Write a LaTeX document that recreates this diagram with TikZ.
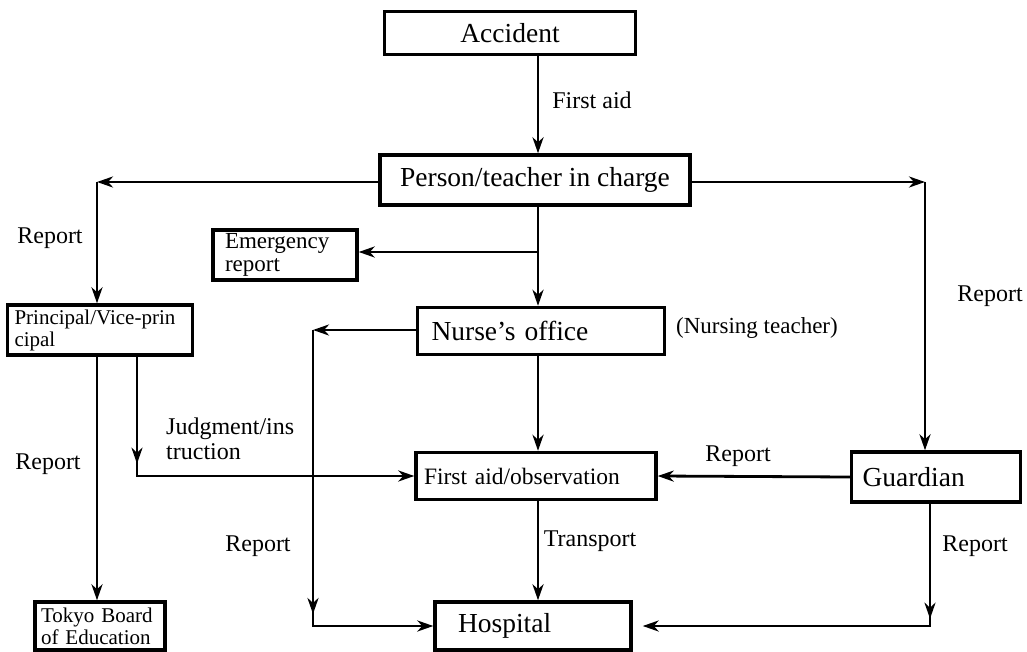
\documentclass[tikz,border=0pt]{standalone}
\usepackage{fontspec}
\setmainfont{Liberation Serif}
\usetikzlibrary{calc, positioning, arrows.meta}

\begin{document}
\begin{tikzpicture}[x=1pt,y=-1pt,
  box/.style={draw, line width=3.4pt, inner sep=0pt, minimum height=48pt},
  big/.style={font=\fontsize{27.5}{30}\selectfont},
  small/.style={font=\fontsize{21}{22}\selectfont},
  lbl/.style={font=\fontsize{24}{25}\selectfont, inner sep=0pt},
  arr/.style={line width=2.8pt, -{Stealth[length=16pt,width=11pt,inset=5pt]}}
 ]
 \useasboundingbox (0,0) rectangle (1027,652);

 % boxes
 \node[box, big, minimum width=251pt, minimum height=43pt] (acc) at (510,33) {Accident};
 \node[box, big, minimum width=310pt, minimum height=50pt] (person) at (535,180) {Person/teacher in charge};
 \node[box, font=\fontsize{23}{23}\selectfont, text width=120pt, inner xsep=12pt, align=left, minimum height=50pt]
   (emerg) at (285,255) {Emergency\\report};
 \node[box, small, text width=171pt, inner xsep=7pt, align=left, minimum height=50pt]
   (principal) at (100,330) {Principal/Vice-prin\\cipal};
 \node[box, big, text width=219pt, inner xsep=14pt, align=left, minimum height=47pt]
   (nurse) at (541,331) {Nurse’s office};
 \node[box, font=\fontsize{23.5}{25}\selectfont, text width=224pt, inner xsep=8pt, align=left, minimum height=47pt]
   (firstaid) at (536,476) {First aid/observation};
 \node[box, big, text width=147pt, inner xsep=11pt, align=left, minimum height=50pt]
   (guardian) at (936,477) {Guardian};
 \node[box, big, text width=150pt, inner xsep=23pt, align=left, minimum height=48pt]
   (hospital) at (533,626) {Hospital};
 \node[box, small, text width=118pt, inner xsep=6pt, align=left, minimum height=48pt]
   (tokyo) at (100,626) {Tokyo Board\\of Education};

 % bends
 \coordinate (mid) at (538,0);
 \coordinate (lft) at (97,182);
 \coordinate (rgt) at (925,182);
 \coordinate (br) at (538,252);
 \coordinate (nl) at (313,330);
 \coordinate (jx) at (137,0);
 \coordinate (gx) at (930,0);

 % connectors
 \draw[arr] (acc.south -| mid) -- (person.north -| mid);
 \draw[arr] (person.west |- lft) -- (lft);
 \draw[arr] (lft) -- (principal.north -| lft);
 \draw[arr] (person.east |- rgt) -- (rgt);
 \draw[arr] (rgt) -- (guardian.north -| rgt);
 \draw[arr] (person.south -| mid) -- (nurse.north -| mid);
 \draw[arr] (br) -- (emerg.east |- br);
 \draw[arr] (nurse.west |- nl) -- (nl);
 \draw[arr] (nl) -- ++(0,284);
 \draw[arr] (nl) |- (hospital.west);
 \draw[arr] (principal.south -| lft) -- (tokyo.north -| lft);
 \draw[arr] (principal.south -| jx) -- ++(0,107);
 \draw[arr] (principal.south -| jx) |- (firstaid.west);
 \draw[arr] (nurse.south -| mid) -- (firstaid.north -| mid);
 \draw[arr] (guardian.west) -- (firstaid.east);
 \draw[arr] (firstaid.south -| mid) -- (hospital.north -| mid);
 \draw[arr] (guardian.south -| gx) -- ++(0,115);
 \draw[arr] (guardian.south -| gx) |- ([xshift=10pt]hospital.east);

 % labels
 \node[lbl] (l1) at (592,100) {First aid};
 \node[lbl] (l2) at (50,238) {Report};
 \node[lbl] (l3) at (990,296) {Report};
 \node[lbl, font=\fontsize{23}{25}\selectfont] (l4) at (757,328) {(Nursing teacher)};
 \node[lbl] (l5) at (48,464) {Report};
 \node[lbl, align=left, anchor=north west] (l6) at (166,418) {Judgment/ins\\truction};
 \node[lbl] (l7) at (738,456) {Report};
 \node[lbl] (l8) at (590,541) {Transport};
 \node[lbl] (l9) at (258,546) {Report};
 \node[lbl] (l10) at (975,546) {Report};
\end{tikzpicture}
\end{document}
